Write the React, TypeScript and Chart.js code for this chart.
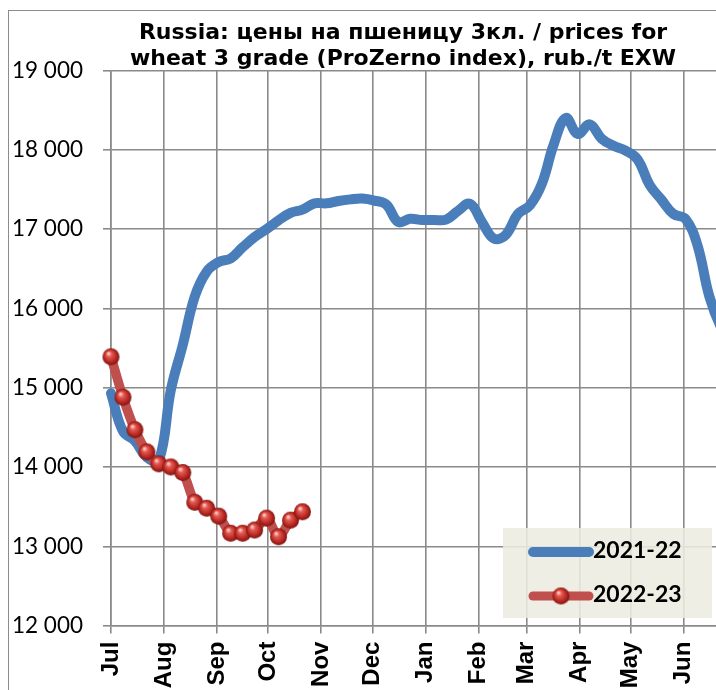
import { useEffect, useRef } from 'react';
import { Chart, registerables } from 'chart.js';

Chart.register(...registerables);

// ---- data ----
const monthStarts = [0, 31, 62, 92, 123, 153, 184, 215, 243, 274, 304, 335];
const monthLabels = ['Jul', 'Aug', 'Sep', 'Oct', 'Nov', 'Dec', 'Jan', 'Feb', 'Mar', 'Apr', 'May', 'Jun'];
const yTicks = [12000, 13000, 14000, 15000, 16000, 17000, 18000, 19000];

const series1Label = '2021-22';
const series1Values = [
  14930, 14450, 14330, 14120, 14080, 14970, 15540, 16150, 16465, 16585,
  16630, 16770, 16900, 17000, 17110, 17205, 17245, 17325, 17325, 17355,
  17375, 17385, 17360, 17310, 17090, 17130, 17115, 17115, 17120, 17230,
  17320, 17090, 16880, 16930, 17190, 17300, 17570, 18070, 18400, 18200,
  18320, 18140, 18050, 17990, 17880, 17560, 17370, 17190, 17130, 16800,
  16150, 15750, 15500,
];

const series2Label = '2022-23';
const series2Values = [
  15390, 14880, 14470, 14190, 14040, 14000, 13930, 13555, 13480, 13380,
  13165, 13165, 13205, 13355, 13120, 13330, 13435,
];

const titleLines = ['Russia: цены на пшеницу 3кл. / prices for', 'wheat 3 grade (ProZerno index), rub./t EXW'];

const BLUE = '#4A7EBB';
const RED = '#C0504D';
const GRID = '#8a8a8a';

function weekly(values: number[]) {
  return values.map((v, i) => ({ x: i * 7, y: v }));
}

function makeSphere(r: number) {
  const c = document.createElement('canvas');
  const s = Math.ceil(r * 2 + 2);
  c.width = s;
  c.height = s;
  const g = c.getContext('2d')!;
  const cx = s / 2;
  const cy = s / 2;
  const grad = g.createRadialGradient(cx - r * 0.3, cy - r * 0.4, r * 0.1, cx, cy, r);
  grad.addColorStop(0, '#fbc4bf');
  grad.addColorStop(0.25, '#e25a52');
  grad.addColorStop(0.7, '#b82822');
  grad.addColorStop(1, '#7c1412');
  g.fillStyle = grad;
  g.beginPath();
  g.arc(cx, cy, r, 0, Math.PI * 2);
  g.fill();
  return c;
}

function fmt(v: number) {
  return String(v).replace(/\B(?=(\d{3})+(?!\d))/g, ' ');
}

export default function App() {
  const ref = useRef<HTMLCanvasElement | null>(null);

  useEffect(() => {
    if (!ref.current) return;
    const sphere = makeSphere(8.5);

    const titleShift = {
      id: 'titleShift',
      afterLayout(chart: any) {
        const t = chart.titleBlock;
        if (t) {
          t.left = 71;
          t.right = chart.chartArea.right;
        }
      },
    };

    const legendPlugin = {
      id: 'boxLegend',
      afterDatasetsDraw(chart: any) {
        const ctx = chart.ctx as CanvasRenderingContext2D;
        const a = chart.chartArea;
        const x0 = a.left + 392;
        const y0 = a.top + 457.5;
        ctx.save();
        ctx.fillStyle = 'rgba(236,236,224,0.88)';
        ctx.fillRect(x0, y0, 209, 90);
        ctx.lineCap = 'round';
        ctx.strokeStyle = BLUE;
        ctx.lineWidth = 10;
        ctx.beginPath();
        ctx.moveTo(x0 + 30, y0 + 24);
        ctx.lineTo(x0 + 86, y0 + 24);
        ctx.stroke();
        ctx.strokeStyle = RED;
        ctx.lineWidth = 9;
        ctx.beginPath();
        ctx.moveTo(x0 + 30, y0 + 68);
        ctx.lineTo(x0 + 86, y0 + 68);
        ctx.stroke();
        ctx.drawImage(sphere, x0 + 58 - sphere.width / 2, y0 + 68 - sphere.height / 2);
        ctx.fillStyle = '#000';
        ctx.font = 'bold 23px Lato';
        ctx.textBaseline = 'middle';
        ctx.textAlign = 'left';
        const ds = chart.data.datasets;
        ctx.fillText(ds[0].label, x0 + 90, y0 + 23);
        ctx.fillText(ds[1].label, x0 + 90, y0 + 67);
        ctx.restore();
      },
    };

    const chart = new Chart(ref.current, {
      type: 'line',
      data: {
        datasets: [
          {
            label: series1Label,
            data: weekly(series1Values),
            borderColor: BLUE,
            backgroundColor: BLUE,
            borderWidth: 10,
            pointRadius: 0,
            tension: 0.4,
            borderCapStyle: 'round',
            borderJoinStyle: 'round',
            clip: false,
            order: 2,
          },
          {
            label: series2Label,
            data: weekly(series2Values),
            borderColor: RED,
            backgroundColor: RED,
            borderWidth: 9.5,
            pointStyle: sphere,
            pointRadius: 8,
            tension: 0.3,
            borderCapStyle: 'round',
            borderJoinStyle: 'round',
            clip: false,
            order: 1,
          },
        ],
      },
      options: {
        responsive: false,
        animation: false,
        events: [],
        layout: { padding: { left: 0, right: 25, top: 0, bottom: 0 } },
        plugins: {
          legend: { display: false },
          tooltip: { enabled: false },
          title: {
            display: true,
            text: titleLines,
            color: '#000',
            font: { family: '"DejaVu Sans"', size: 22, weight: 'bold', lineHeight: 1.2 },
            padding: { top: 20, bottom: -2.3 },
          },
        },
        scales: {
          x: {
            type: 'linear',
            min: 0,
            max: 365,
            afterFit(scale: any) {
              scale.height = 74.4;
            },
            afterBuildTicks(scale: any) {
              scale.ticks = monthStarts.map((v) => ({ value: v }));
            },
            ticks: {
              autoSkip: false,
              minRotation: 90,
              maxRotation: 90,
              padding: 8,
              color: '#000',
              font: { family: '"Liberation Sans", Arial', size: 24, weight: 'bold' },
              callback: (value: any) => {
                const i = monthStarts.indexOf(Number(value));
                return i >= 0 ? monthLabels[i] : '';
              },
            },
            grid: { color: GRID, lineWidth: 1.6, tickLength: 8, drawTicks: true },
            border: { display: true, color: GRID, width: 1.6 },
          },
          y: {
            min: yTicks[0],
            max: yTicks[yTicks.length - 1],
            afterFit(scale: any) {
              scale.width = 111;
            },
            afterBuildTicks(scale: any) {
              scale.ticks = yTicks.map((v) => ({ value: v }));
            },
            ticks: {
              padding: 20,
              color: '#000',
              font: { family: 'Lato', size: 22.5 },
              callback: (value: any) => fmt(Number(value)),
            },
            grid: { color: GRID, lineWidth: 1.6, tickLength: 8, drawTicks: true },
            border: { display: true, color: GRID, width: 1.6 },
          },
        },
      },
      plugins: [titleShift, legendPlugin],
    } as any);

    return () => chart.destroy();
  }, []);

  return (
    <div style={{ position: 'absolute', left: 0, top: 0, width: 716, height: 690, overflow: 'hidden', background: '#fff' }}>
      <div
        style={{
          position: 'absolute',
          left: 8,
          top: 10,
          width: 900,
          height: 900,
          borderLeft: '1px solid #8c8c8c',
          borderTop: '1px solid #8c8c8c',
        }}
      />
      <canvas ref={ref} width={760} height={700} style={{ position: 'absolute', left: 0, top: 0 }} />
    </div>
  );
}
